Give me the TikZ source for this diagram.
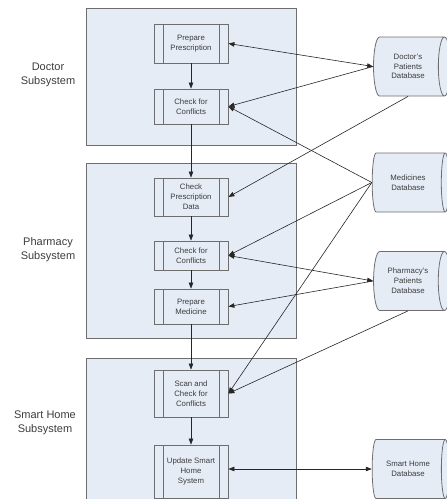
\documentclass[tikz,border=0pt]{standalone}
\usepackage{fontspec}
\setmainfont{Liberation Sans}
\usetikzlibrary{arrows.meta,shapes.geometric}

\definecolor{boxfill}{HTML}{E6ECF6}
\definecolor{boxline}{HTML}{6E6E6E}
\definecolor{txtgrey}{HTML}{3C3C3C}

\begin{document}
\begin{tikzpicture}[x=1pt,y=-1pt,
	subsys/.style={draw=boxline, line width=1pt, fill=boxfill, minimum width=210pt, inner sep=0pt},
	proc/.style={draw=boxline, line width=0.8pt, fill=boxfill, minimum width=74pt, inner sep=1pt,
		align=center, text=txtgrey, font=\fontsize{7.8}{9.8}\selectfont,
		path picture={
			\draw[-, boxline, line width=0.8pt] ([xshift=9pt]path picture bounding box.north west) -- ([xshift=9pt]path picture bounding box.south west);
			\draw[-, boxline, line width=0.8pt] ([xshift=-9pt]path picture bounding box.north east) -- ([xshift=-9pt]path picture bounding box.south east);}},
	dbase/.style={cylinder, draw=boxline, line width=0.8pt, fill=boxfill, minimum width=59pt, minimum height=77pt,
		aspect=0.45, inner sep=1pt, align=center, text=txtgrey, font=\fontsize{7.8}{9.8}\selectfont},
	sublbl/.style={align=center, text=txtgrey, font=\fontsize{11}{14}\selectfont},
	-{Triangle[length=6pt,width=4.5pt]}, line width=0.6pt, draw=black!85]
	\useasboundingbox (0,0) rectangle (447,499);
	% subsystems
	\node[subsys, minimum height=137pt] (docsys) at (191,76.5) {};
	\node[subsys, minimum height=175pt] (pharmsys) at (191,250.5) {};
	\node[subsys, minimum height=160pt] (homesys) at (191,438) {};
	\node[sublbl] (doclbl) at (48,75) {Doctor\\Subsystem};
	\node[sublbl] (pharmlbl) at (48,250) {Pharmacy\\Subsystem};
	\node[sublbl] (homelbl) at (45,423) {Smart Home\\Subsystem};
	% steps
	\node[proc, minimum height=39pt] (prep) at (191,43.5) {Prepare\\Prescription};
	\node[proc, minimum height=35pt] (chk1) at (191,106.5) {Check for\\Conflicts};
	\node[proc, minimum height=38pt] (chkdata) at (191,197) {Check\\Prescription\\Data};
	\node[proc, minimum height=29pt] (chk2) at (191,255.5) {Check for\\Conflicts};
	\node[proc, minimum height=35pt] (med) at (191,306.5) {Prepare\\Medicine};
	\node[proc, minimum height=47pt] (scan) at (191,393.5) {Scan and\\Check for\\Conflicts};
	\node[proc, minimum height=53pt] (upd) at (191,471.5) {Update Smart\\Home\\System};
	% databases
	\node[dbase] (docdb) at (408,66.5) {Doctor's\\Patients\\Database};
	\node[dbase] (meddb) at (408,182.5) {Medicines\\Database};
	\node[dbase] (pharmdb) at (408,281) {Pharmacy's\\Patients\\Database};
	\node[dbase] (homedb) at (408,469) {Smart Home\\Database};
	% flow
	\draw (prep) to (chk1);
	\draw (chk1) to (chkdata);
	\draw (chkdata) to (chk2);
	\draw (chk2) to (med);
	\draw (med) to (scan);
	\draw (scan) to (upd);
	% data links
	\draw[{Triangle[length=6pt,width=4.5pt]}-{Triangle[length=6pt,width=4.5pt]}] (prep.east) to (docdb.west);
	\draw (docdb.west) to (chk1.east);
	\draw (meddb.west) to (chk1.east);
	\draw (docdb.south) to (chkdata.east);
	\draw (meddb.west) to (chk2.east);
	\draw[{Triangle[length=6pt,width=4.5pt]}-{Triangle[length=6pt,width=4.5pt]}] (chk2.east) to (pharmdb.west);
	\draw (pharmdb.west) to (med.east);
	\draw (meddb.west) to (scan.east);
	\draw (pharmdb.south) to (scan.east);
	\draw[{Triangle[length=6pt,width=4.5pt]}-{Triangle[length=6pt,width=4.5pt]}] (upd.east |- homedb.west) to (homedb.west);
\end{tikzpicture}
\end{document}
